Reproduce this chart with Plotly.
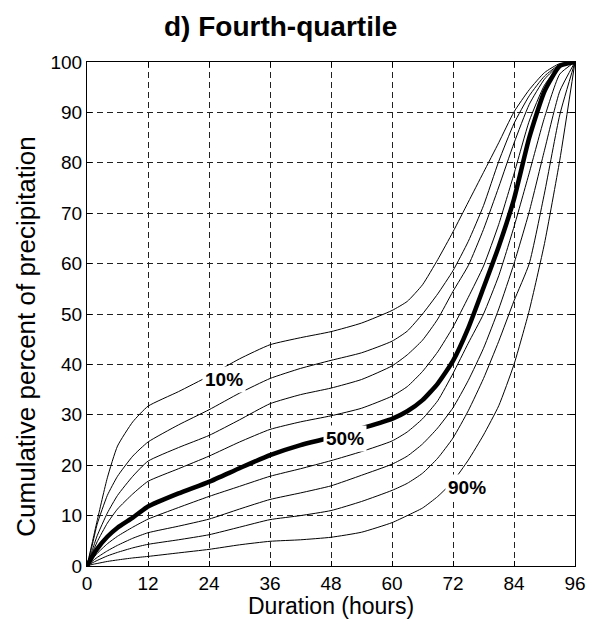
import plotly.graph_objects as go

# Duration (hours) sample points
hours = [0, 1, 2, 4, 6, 9, 12, 18, 24, 30, 36, 42, 48, 54, 60, 63, 66, 69, 72, 75, 78, 81, 84, 87, 90, 93, 96]

# Cumulative percent of precipitation, one list per percentile curve
p10 = [0, 4.5, 9.0, 17.5, 23.8, 28.6, 31.7, 34.6, 37.7, 41.1, 43.9, 45.3, 46.5, 48.2, 50.7, 52.5, 55.8, 60.8, 66.3, 72.2, 78.1, 84.0, 90.1, 94.5, 97.9, 99.7, 100]
p20 = [0, 4.0, 8.3, 14.0, 17.8, 21.8, 24.6, 28.0, 31.0, 34.3, 37.2, 39.2, 40.8, 42.3, 44.6, 46.6, 50.0, 54.0, 58.6, 64.4, 71.5, 80.3, 87.8, 93.3, 97.2, 99.5, 100]
p30 = [0, 3.0, 6.0, 10.5, 14.0, 17.8, 20.8, 23.5, 25.9, 29.0, 32.2, 34.0, 35.3, 37.0, 39.7, 41.9, 44.8, 49.0, 54.5, 59.6, 66.8, 75.2, 83.9, 91.6, 96.6, 99.4, 100]
p40 = [0, 2.5, 4.8, 8.5, 11.3, 14.3, 16.8, 19.3, 21.8, 24.6, 27.1, 28.6, 29.8, 31.3, 33.7, 35.6, 38.6, 42.5, 47.4, 53.3, 59.5, 67.8, 77.8, 88.3, 95.4, 99.2, 100]
p50 = [0, 1.8, 3.4, 5.8, 7.6, 9.6, 11.8, 14.4, 16.7, 19.4, 22.0, 24.0, 25.5, 27.3, 29.2, 30.7, 32.9, 36.2, 40.7, 47.2, 55.2, 63.4, 72.8, 85.0, 94.2, 99.2, 100]
p60 = [0, 1.3, 2.5, 4.4, 5.9, 7.7, 9.3, 11.6, 13.8, 15.8, 17.8, 19.3, 20.9, 22.7, 24.8, 26.6, 29.2, 32.8, 38.2, 44.2, 50.0, 57.6, 67.3, 78.0, 89.0, 97.6, 100]
p70 = [0, 0.9, 1.7, 3.0, 4.1, 5.5, 6.6, 7.9, 9.3, 11.3, 13.2, 14.5, 15.9, 18.0, 20.2, 21.8, 24.2, 27.4, 31.4, 36.8, 43.2, 51.0, 60.0, 70.3, 82.5, 94.2, 100]
p80 = [0, 0.6, 1.1, 2.0, 2.7, 3.6, 4.3, 5.2, 6.2, 7.7, 9.2, 10.0, 11.0, 12.8, 15.0, 16.4, 18.4, 21.4, 25.4, 30.8, 37.2, 44.6, 52.6, 60.0, 74.0, 89.5, 100]
p90 = [0, 0.3, 0.5, 0.9, 1.2, 1.6, 1.9, 2.6, 3.3, 4.2, 4.9, 5.2, 5.7, 6.7, 8.6, 10.0, 11.5, 13.8, 16.8, 21.0, 26.0, 31.8, 40.0, 50.7, 64.0, 80.5, 100]

series_names = ["10%", "20%", "30%", "40%", "50%", "60%", "70%", "80%", "90%"]
series_vals = [p10, p20, p30, p40, p50, p60, p70, p80, p90]

# curve labels
label_text = ["10%", "50%", "90%"]
label_x = [26.9, 50.8, 74.8]
label_y = [37.1, 25.3, 15.6]

x_ticks = [0, 12, 24, 36, 48, 60, 72, 84, 96]
y_ticks = [0, 10, 20, 30, 40, 50, 60, 70, 80, 90, 100]

FONT = "Liberation Sans, Arial, Helvetica, sans-serif"

fig = go.Figure()
for name, vals in zip(series_names, series_vals):
    fig.add_trace(go.Scatter(
        x=hours, y=vals, mode="lines", name=name,
        line=dict(color="black", width=4.5 if name == "50%" else 1,
                  shape="spline", smoothing=0.5),
        showlegend=False, hoverinfo="skip"))

annotations = []
for t, lx, ly in zip(label_text, label_x, label_y):
    annotations.append(dict(
        x=lx, y=ly, xref="x", yref="y", text="<b>" + t + "</b>",
        showarrow=False, bgcolor="white", borderpad=2,
        font=dict(family=FONT, size=19, color="black")))

# plot area in pixels: left 87, right 575, top 62, bottom 566.5
PW, PH = 488.0, 504.5
# main title
annotations.append(dict(
    x=(280 - 87) / PW, y=(566.5 - 26) / PH, xref="paper", yref="paper",
    text="<b>d) Fourth-quartile</b>", showarrow=False,
    font=dict(family=FONT, size=28, color="black"),
    xanchor="center", yanchor="middle"))
# y axis title
annotations.append(dict(
    x=(26 - 87) / PW, y=(566.5 - 337) / PH, xref="paper", yref="paper",
    text="Cumulative percent of precipitation", showarrow=False, textangle=-90,
    font=dict(family=FONT, size=26, color="black"),
    xanchor="center", yanchor="middle"))
# x axis title
annotations.append(dict(
    x=(331 - 87) / PW, y=(566.5 - 607) / PH, xref="paper", yref="paper",
    text="Duration (hours)", showarrow=False,
    font=dict(family=FONT, size=23, color="black"),
    xanchor="center", yanchor="middle"))

fig.update_layout(
    width=598, height=630,
    margin=dict(l=87, r=23, t=62, b=63.5),
    paper_bgcolor="white", plot_bgcolor="white",
    font=dict(family=FONT, size=19, color="black"),
    annotations=annotations,
    xaxis=dict(
        range=[0, 96], tickvals=x_ticks, ticktext=[str(v) for v in x_ticks],
        showgrid=True, gridcolor="#222222", gridwidth=1, griddash="6px,4px",
        showline=True, linecolor="black", linewidth=1.2, mirror="ticks",
        ticks="inside", ticklen=5, tickcolor="black",
        zeroline=False, tickfont=dict(family=FONT, size=19),
    ),
    yaxis=dict(
        range=[0, 100], tickvals=y_ticks, ticktext=[str(v) for v in y_ticks],
        showgrid=True, gridcolor="#222222", gridwidth=1, griddash="6px,4px",
        showline=True, linecolor="black", linewidth=1.2, mirror="ticks",
        ticks="inside", ticklen=5, tickcolor="black",
        zeroline=False, tickfont=dict(family=FONT, size=19),
    ),
)

fig.write_html("out.html")
